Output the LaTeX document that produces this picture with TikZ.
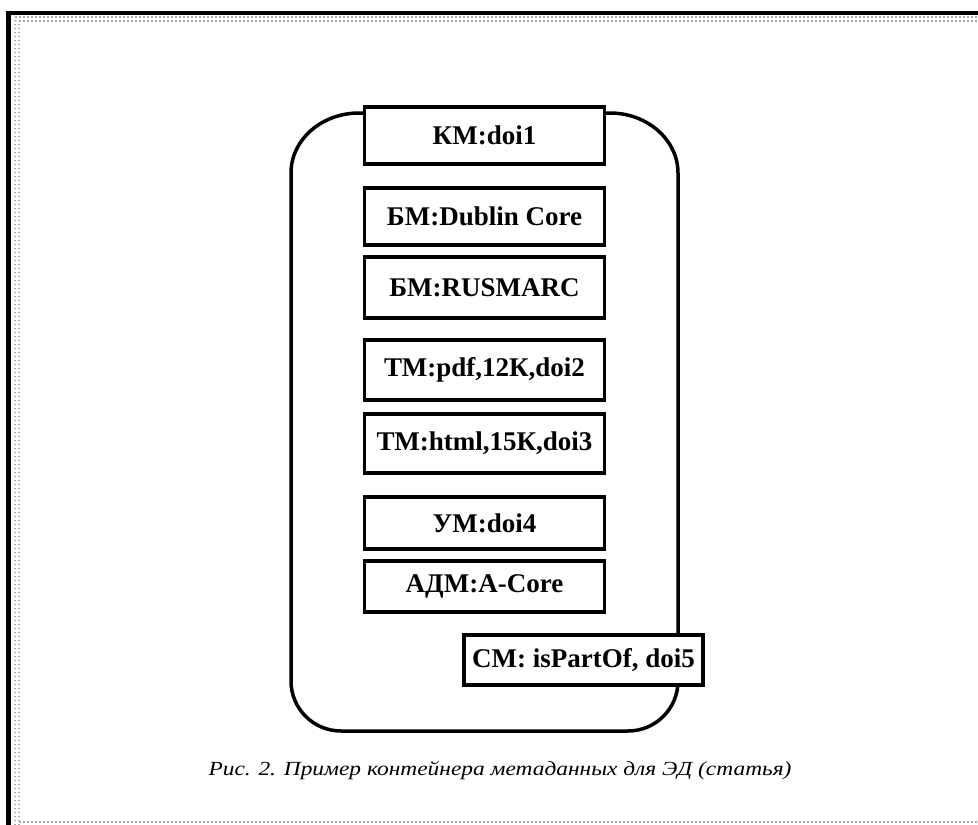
\documentclass[tikz,border=0pt]{standalone}
\usepackage{fontspec}
\setmainfont{Liberation Serif}
\newfontfamily\capfont[FakeStretch=1.17]{Liberation Serif}
\begin{document}
\begin{tikzpicture}[x=1pt,y=-1pt,
  frameline/.style={line width=4.5pt,black},
  dotline/.style={gray!70,line width=1.5pt,dash pattern=on 1.5pt off 2.5pt},
  metabox/.style={draw=black,line width=3.5pt,fill=white,rectangle,inner sep=0pt,
    minimum width=240pt,font=\bfseries\fontsize{27}{30}\selectfont},
  container/.style={draw=black,line width=3.5pt},
  captext/.style={inner sep=0pt,anchor=base,font=\capfont\itshape\fontsize{20}{24}\selectfont}]
\useasboundingbox (0,0) rectangle (978,825);
\fill[white] (0,0) rectangle (978,825);
% frame
\draw[frameline] (8.5,825) -- (8.5,13) -- (978,13);
\draw[dotline] (15,825) -- (15,17) -- (978,17);
\draw[dotline] (19,825) -- (19,21) -- (978,21);
\draw[dotline] (19,822) -- (978,822);
% container
\draw[container] (359,113) -- (610,113)
  .. controls (647.4,113) and (678,139.9) .. (678,173)
  -- (678,681)
  .. controls (678,708.6) and (655.6,731) .. (628,731)
  -- (341,731)
  .. controls (313.4,731) and (291,708.6) .. (291,681)
  -- (291,173)
  .. controls (291,139.9) and (321.4,113) .. (359,113) -- cycle;
% boxes
\node[metabox,minimum height=57pt] (km) at (484.5,135.5) {КМ:doi1};
\node[metabox,minimum height=57pt] (dc) at (484.5,216.5) {БМ:Dublin Core};
\node[metabox,minimum height=61pt] (rus) at (484.5,287.5) {БМ:RUSMARC};
\node[metabox,minimum height=60pt] (pdf) at (484.5,370) {ТМ:pdf,12К,doi2};
\node[metabox,minimum height=59pt] (html) at (484.5,443.5) {ТМ:html,15К,doi3};
\node[metabox,minimum height=52pt] (um) at (484.5,523) {УМ:doi4};
\node[metabox,minimum height=51pt] (adm) at (484.5,586.5) {АДМ:A-Core};
\node[metabox,minimum height=50pt,minimum width=239pt] (sm) at (583.5,660) {СМ: isPartOf, doi5};
% caption
\node[captext] (cap) at (500,775) {Рис. 2. Пример контейнера метаданных для ЭД (статья)};
\end{tikzpicture}
\end{document}
